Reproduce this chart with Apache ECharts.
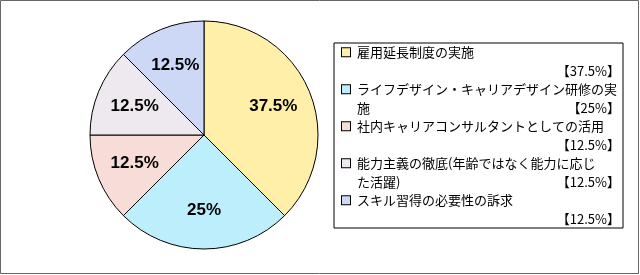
<!DOCTYPE html>
<html>
<head>
<meta charset="utf-8">
<script src="https://cdn.jsdelivr.net/npm/echarts@6/dist/echarts.min.js"></script>
<style>
  html, body { margin: 0; padding: 0; background: #fff; }
  #chart { width: 640px; height: 275px; }
</style>
</head>
<body>
<div id="chart"></div>
<script>
// categories (\n = where the legend wraps the line)
var names = [
    '雇用延長制度の実施',
    'ライフデザイン・キャリアデザイン研修の実\n施',
    '社内キャリアコンサルタントとしての活用',
    '能力主義の徹底(年齢ではなく能力に応じ\nた活躍)',
    'スキル習得の必要性の訴求'
];
var values = [37.5, 25, 12.5, 12.5, 12.5];
var colors = ['#FFEFA9', '#BDEEFC', '#F7DCD8', '#EEE9EE', '#CDD8F7'];

var mychart = echarts.init(document.getElementById('chart'));

var pieData = [];
var labelData = [];
var rich = {
    t: { fontSize: 13, lineHeight: 18.5, padding: [0, 0, 0, 7] },
    t2: { fontSize: 13, lineHeight: 18.5, padding: [0, 0, 0, 15] },
    v: { fontSize: 13, lineHeight: 18.5, align: 'right' }
};
for (var i = 0; i < names.length; i++) {
    pieData.push({ name: names[i], value: values[i], itemStyle: { color: colors[i] } });
    labelData.push({ name: names[i], value: values[i] });
    rich['s' + i] = {
        width: 8, height: 8, lineHeight: 18.5,
        backgroundColor: colors[i], borderColor: '#000', borderWidth: 1
    };
}

option = {
    animation: false,
    graphic: [{
        type: 'rect',
        silent: true,
        shape: { x: 0.5, y: 0.5, width: 638, height: 273 },
        style: { fill: 'none', stroke: '#666', lineWidth: 1 }
    }],
    legend: {
        orient: 'vertical',
        left: 334,
        top: 43,
        padding: [0, 3, 0, 3],
        itemGap: 0,
        itemWidth: 0,
        itemHeight: 0,
        itemStyle: { opacity: 0, borderWidth: 0 },
        borderColor: '#000',
        borderWidth: 1,
        selectedMode: false,
        data: names,
        textStyle: {
            fontFamily: 'Noto Sans CJK JP',
            fontSize: 13,
            color: '#000',
            lineHeight: 18.5,
            width: 278,
            rich: rich
        },
        formatter: function (name) {
            var idx = names.indexOf(name);
            var lines = name.split('\n');
            var val = '{v|【' + values[idx] + '%】}';
            var temp = '{s' + idx + '|}{t|' + lines[0] + '}\n';
            if (lines.length > 1) {
                temp += '{t2|' + lines[1] + '}' + val;
            } else {
                temp += val;
            }
            return temp;
        }
    },
    series: [
        {
            name: 'pie',
            type: 'pie',
            center: [204, 135],
            radius: 114,
            startAngle: 90,
            clockwise: true,
            silent: true,
            label: { show: false },
            labelLine: { show: false },
            itemStyle: { borderColor: '#000', borderWidth: 1 },
            data: pieData
        },
        {
            // transparent ring only used to place the value labels
            name: 'labels',
            type: 'pie',
            center: [204, 135],
            radius: [30, 114],
            startAngle: 90,
            clockwise: true,
            silent: true,
            label: {
                show: true,
                position: 'inside',
                fontFamily: 'Liberation Sans',
                fontWeight: 'bold',
                fontSize: 17,
                color: '#000',
                formatter: function (p) {
                    return p.value + '%';
                }
            },
            labelLine: { show: false },
            itemStyle: { color: 'rgba(0,0,0,0)', borderWidth: 0 },
            data: labelData
        }
    ]
};

mychart.setOption(option);
</script>
</body>
</html>
